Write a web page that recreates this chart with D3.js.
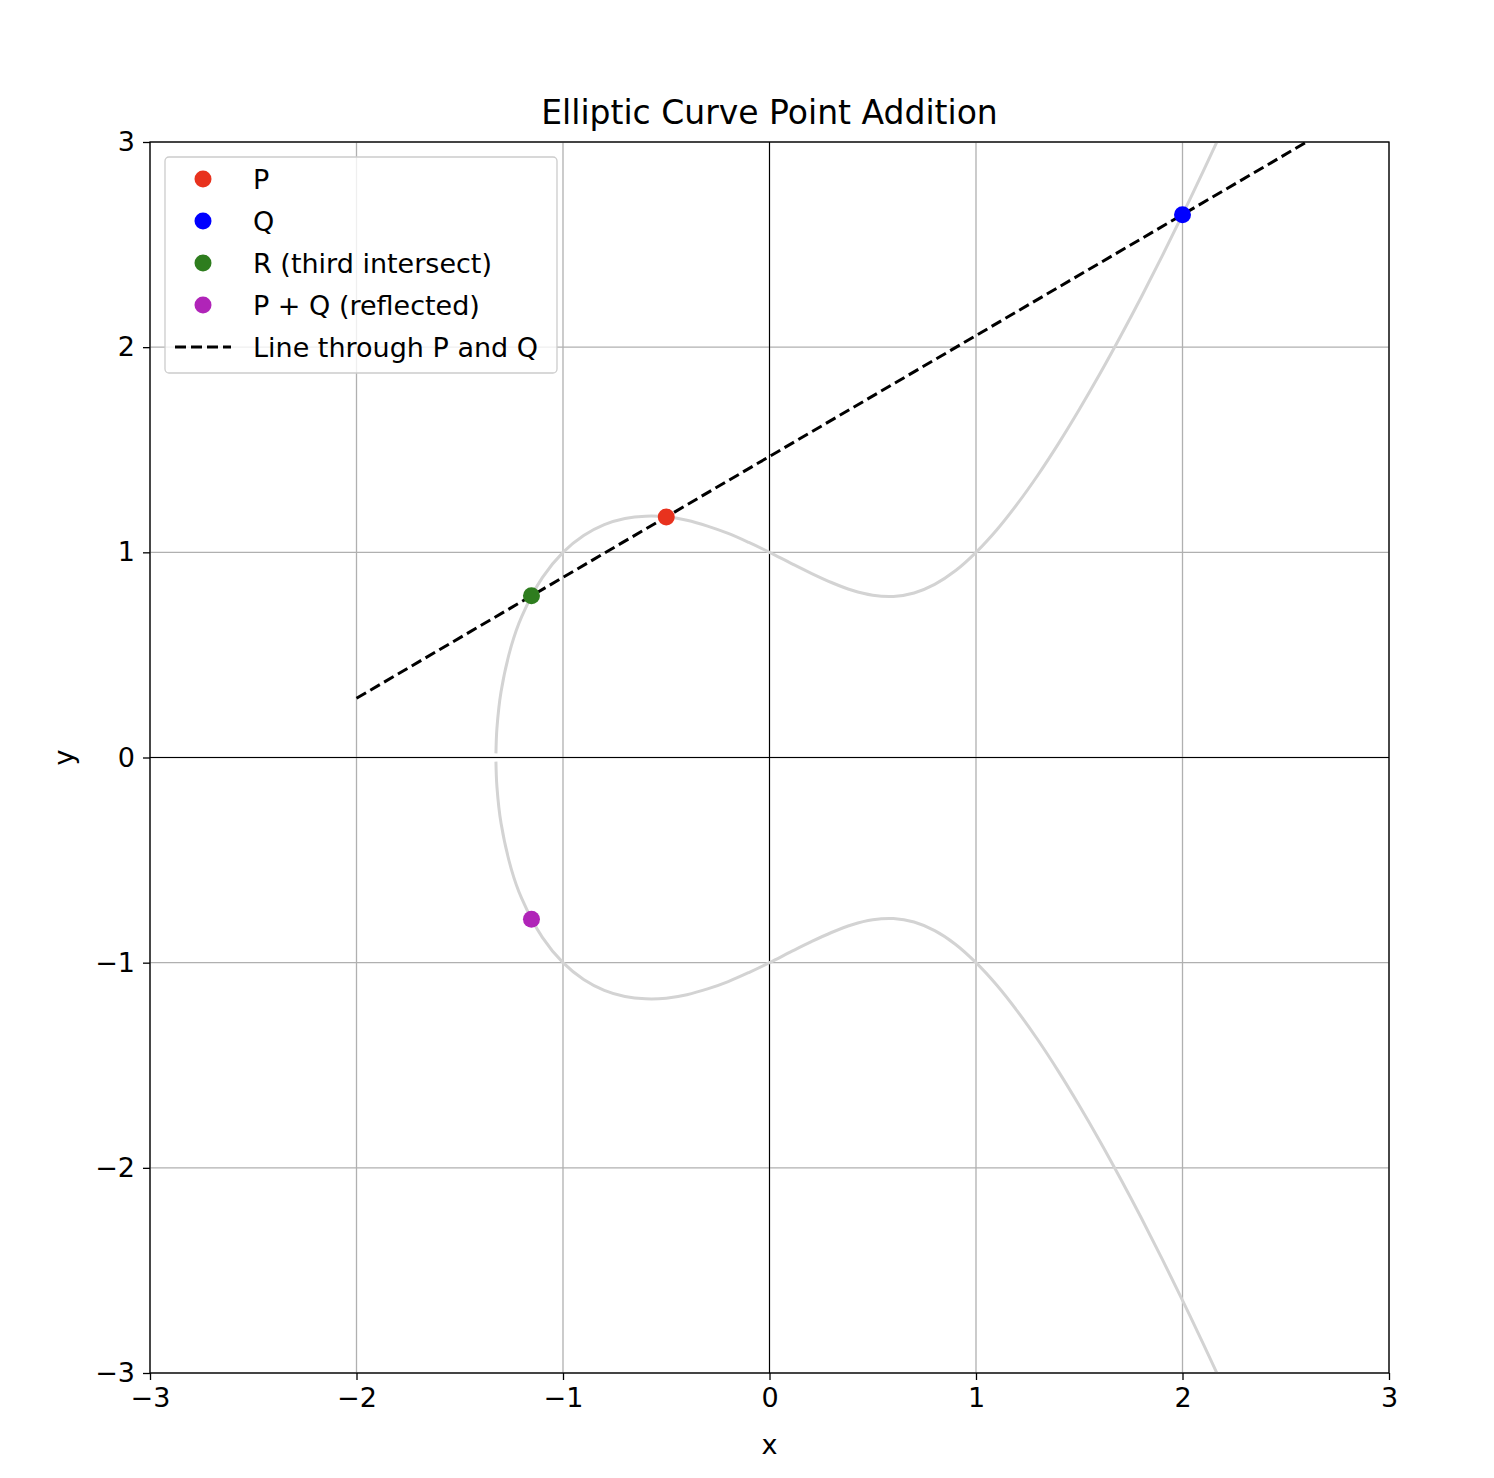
<!DOCTYPE html>
<html><head><meta charset="utf-8">
<script src="https://cdn.jsdelivr.net/npm/d3@7"></script>
<style>body{margin:0;background:#fff}text{font-family:"DejaVu Sans",sans-serif}</style>
</head><body><svg id="c" width="1494" height="1478"></svg>
<script>
// upper branch of y^2 = x^3 - x + 1 (sampled)
const curveX = [-1.3247,-1.32,-1.3,-1.25,-1.2,-1.1,-1.0,-0.9,-0.8,-0.7,-0.6,-0.5,-0.4,-0.3,-0.2,-0.1,0,0.1,0.2,0.3,0.4,0.5,0.6,0.7,0.8,0.9,1.0,1.1,1.2,1.3,1.4,1.5,1.6,1.7,1.8,1.9,2.0,2.1,2.17];
const curveY = [0.02,0.142,0.321,0.545,0.687,0.877,1,1.082,1.135,1.165,1.176,1.173,1.156,1.128,1.092,1.048,1,0.949,0.899,0.853,0.815,0.791,0.785,0.802,0.844,0.910,1,1.109,1.236,1.377,1.531,1.696,1.870,2.053,2.243,2.441,2.646,2.857,3.008];
const pointNames = ["P","Q","R (third intersect)","P + Q (reflected)"];
const pointX = [-0.5, 2.0, -1.1527, -1.1527];
const pointY = [1.1726, 2.6458, 0.788, -0.788];
const pointColors = ["#e8321e","#0000ff","#2e7d1e","#b024b8"];
const lineX = [-2, 2.6];
const lineY = [0.2887, 2.9995];
const ticks = [-3,-2,-1,0,1,2,3];

const svg = d3.select("#c");
const L=150,R=1389,T=142,B=1373;
const x = d3.scaleLinear().domain([-3,3]).range([L,R]);
const y = d3.scaleLinear().domain([-3,3]).range([B,T]);
svg.append("defs").append("clipPath").attr("id","cp").append("rect").attr("x",L).attr("y",T).attr("width",R-L).attr("height",B-T);
const g = svg.append("g");
ticks.forEach(t=>{
  g.append("line").attr("x1",x(t)).attr("x2",x(t)).attr("y1",T).attr("y2",B).attr("stroke","#b0b0b0").attr("stroke-width",1.3);
  g.append("line").attr("y1",y(t)).attr("y2",y(t)).attr("x1",L).attr("x2",R).attr("stroke","#b0b0b0").attr("stroke-width",1.3);
});
g.append("line").attr("x1",x(0)).attr("x2",x(0)).attr("y1",T).attr("y2",B).attr("stroke","#000").attr("stroke-width",1.1);
g.append("line").attr("y1",y(0)).attr("y2",y(0)).attr("x1",L).attr("x2",R).attr("stroke","#000").attr("stroke-width",1.1);
const pg = svg.append("g").attr("clip-path","url(#cp)");
const up = curveX.map((v,i)=>[v,curveY[i]]);
const ln = d3.line().x(d=>x(d[0])).y(d=>y(d[1])).curve(d3.curveCatmullRom);
pg.append("path").attr("d",ln(up)).attr("fill","none").attr("stroke","#d3d3d3").attr("stroke-width",3);
pg.append("path").attr("d",ln(up.map(d=>[d[0],-d[1]]))).attr("fill","none").attr("stroke","#d3d3d3").attr("stroke-width",3);
pg.append("path").attr("d",d3.line().x(d=>x(d[0])).y(d=>y(d[1]))(lineX.map((v,i)=>[v,lineY[i]])))
  .attr("fill","none").attr("stroke","#000").attr("stroke-width",3).attr("stroke-dasharray","11,5");
pointX.forEach((v,i)=>pg.append("circle").attr("cx",x(v)).attr("cy",y(pointY[i])).attr("r",8.5).attr("fill",pointColors[i]));
svg.append("rect").attr("x",L).attr("y",T).attr("width",R-L).attr("height",B-T).attr("fill","none").attr("stroke","#000").attr("stroke-width",1.3);
const xa = svg.append("g").attr("transform",`translate(0,${B})`).call(d3.axisBottom(x).tickValues(ticks).tickSize(7).tickPadding(8).tickFormat(d=>d<0?"\u2212"+(-d):d));
const ya = svg.append("g").attr("transform",`translate(${L},0)`).call(d3.axisLeft(y).tickValues(ticks).tickSize(7).tickPadding(8).tickFormat(d=>d<0?"\u2212"+(-d):d));
[xa,ya].forEach(a=>{a.select(".domain").remove();a.selectAll("text").attr("font-size",27).attr("fill","#000");a.selectAll("line").attr("stroke-width",1.3);});
svg.append("text").attr("x",(L+R)/2).attr("y",124).attr("text-anchor","middle").attr("font-size",33).text("Elliptic Curve Point Addition");
svg.append("text").attr("x",(L+R)/2).attr("y",1454).attr("text-anchor","middle").attr("font-size",27).text("x");
svg.append("text").attr("transform",`translate(73,${(T+B)/2}) rotate(-90)`).attr("text-anchor","middle").attr("font-size",27).text("y");
const lg = svg.append("g");
lg.append("rect").attr("x",165).attr("y",157).attr("width",392).attr("height",216).attr("rx",4).attr("fill","#fff").attr("fill-opacity",0.8).attr("stroke","#ccc").attr("stroke-width",1.3);
pointNames.forEach((n,i)=>{
  const yy=179+i*42;
  lg.append("circle").attr("cx",203).attr("cy",yy).attr("r",8.5).attr("fill",pointColors[i]);
  lg.append("text").attr("x",253).attr("y",yy+10).attr("font-size",27).text(n);
});
lg.append("line").attr("x1",175).attr("x2",231).attr("y1",347).attr("y2",347).attr("stroke","#000").attr("stroke-width",3).attr("stroke-dasharray","11,5");
lg.append("text").attr("x",253).attr("y",357).attr("font-size",27).text("Line through P and Q");
</script></body></html>
